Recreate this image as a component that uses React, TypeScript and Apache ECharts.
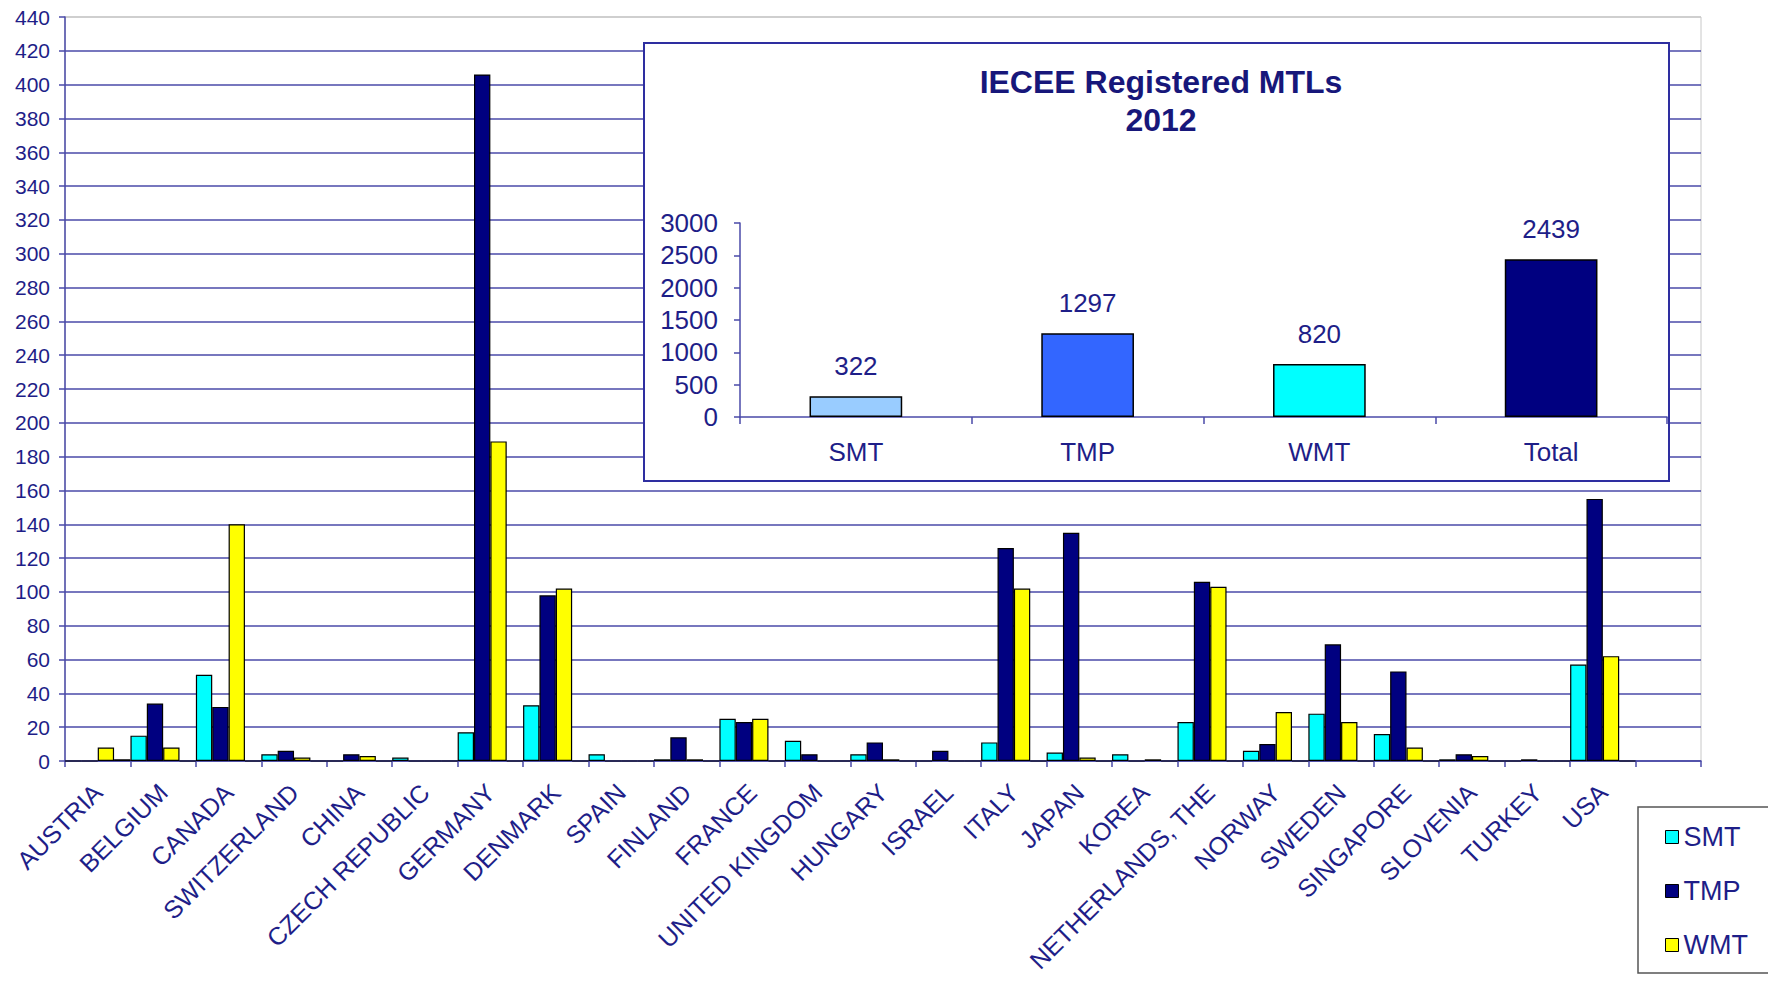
import React, { useEffect, useRef } from "react";
import * as echarts from "echarts";

const countries = [
  "AUSTRIA", "BELGIUM", "CANADA", "SWITZERLAND", "CHINA", "CZECH REPUBLIC",
  "GERMANY", "DENMARK", "SPAIN", "FINLAND", "FRANCE", "UNITED KINGDOM",
  "HUNGARY", "ISRAEL", "ITALY", "JAPAN", "KOREA", "NETHERLANDS, THE",
  "NORWAY", "SWEDEN", "SINGAPORE", "SLOVENIA", "TURKEY", "USA", "",
];
const smtValues = [0, 15, 51, 4, 0, 2, 17, 33, 4, 1, 25, 12, 4, 0, 11, 5, 4, 23, 6, 28, 16, 1, 0, 57, null];
const tmpValues = [0, 34, 32, 6, 4, 0, 406, 98, 0, 14, 23, 4, 11, 6, 126, 135, 0, 106, 10, 69, 53, 4, 1, 155, null];
const wmtValues = [8, 8, 140, 2, 3, 0, 189, 102, 0, 1, 25, 0, 1, 0, 102, 2, 1, 103, 29, 23, 8, 3, 0, 62, null];
const otherValues = [1, 0, 0, 0, 0, 0, 0, 0, 0, 0, 0, 0, 0, 0, 0, 0, 0, 0, 0, 0, 0, 0, 0, 0, null];

const totalCategories = ["SMT", "TMP", "WMT", "Total"];
const totalValues = [322, 1297, 820, 2439];
const totalColors = ["#99ccff", "#3366ff", "#00ffff", "#000080"];

const seriesNames = ["SMT", "TMP", "WMT"];
const seriesColors = ["#00ffff", "#000080", "#ffff00"];

const FONT = "'Liberation Sans', Arial, sans-serif";
const TEXT = "#1e1e88";
const GRIDLINE = "#4a4aa8";

export default function App() {
  const ref = useRef<HTMLDivElement>(null);

  useEffect(() => {
    if (!ref.current) return;
    const chart = echarts.init(ref.current, undefined, { renderer: "svg" });

    const splitColors: string[] = [];
    for (let v = 0; v <= 440; v += 20) splitColors.push(v === 440 ? "#c8c8c8" : GRIDLINE);

    const mainData = [smtValues, tmpValues, wmtValues];

    const option: any = {
      animation: false,
      backgroundColor: "#ffffff",
      textStyle: { fontFamily: FONT },
      title: {
        text: "IECEE Registered MTLs\n2012",
        left: 1156,
        top: 58,
        textAlign: "center",
        z: 10,
        textStyle: {
          fontFamily: FONT,
          fontSize: 32,
          fontWeight: "bold",
          color: "#17177a",
          lineHeight: 38,
        },
      },
      graphic: [
        {
          type: "rect",
          z: 1,
          shape: { x: 644, y: 43, width: 1025, height: 438 },
          style: { fill: "#ffffff", stroke: "#2e2ea0", lineWidth: 2 },
        },
      ],
      legend: {
        data: seriesNames,
        orient: "vertical",
        left: 1638,
        top: 807,
        padding: [16, 90, 14, 27],
        itemGap: 26,
        itemWidth: 13,
        itemHeight: 13,
        icon: "rect",
        borderColor: "#555555",
        borderWidth: 1.5,
        itemStyle: { borderColor: "#000000", borderWidth: 1 },
        textStyle: { fontFamily: FONT, fontSize: 27, color: TEXT, lineHeight: 28 },
      },
      grid: [
        {
          left: 65, top: 17, width: 1636, height: 744,
          outerBoundsMode: "none",
          containLabel: false,
          show: true, borderColor: "#c8c8c8", borderWidth: 1,
          backgroundColor: "transparent",
        },
        {
          left: 740, top: 223, width: 927, height: 194, z: 3,
          outerBoundsMode: "none",
          containLabel: false,
        },
      ],
      xAxis: [
        {
          type: "category",
          gridIndex: 0,
          data: countries,
          axisLine: { lineStyle: { color: GRIDLINE, width: 1.5 } },
          axisTick: { show: true, length: 6, lineStyle: { color: GRIDLINE, width: 1.5 } },
          axisLabel: {
            rotate: 45,
            interval: 0,
            fontSize: 25,
            fontFamily: FONT,
            color: TEXT,
            margin: 27,
          },
          splitLine: { show: false },
        },
        {
          type: "category",
          gridIndex: 1,
          data: totalCategories,
          z: 3,
          axisLine: { lineStyle: { color: GRIDLINE, width: 1.5 } },
          axisTick: { show: true, length: 7, lineStyle: { color: GRIDLINE, width: 1.5 } },
          axisLabel: { fontSize: 26, fontFamily: FONT, color: TEXT, margin: 22 },
        },
      ],
      yAxis: [
        {
          type: "value",
          gridIndex: 0,
          min: 0,
          max: 440,
          interval: 20,
          axisLine: { show: true, lineStyle: { color: GRIDLINE, width: 1.5 } },
          axisTick: { show: true, length: 6, lineStyle: { color: GRIDLINE, width: 1.5 } },
          axisLabel: { fontSize: 21, fontFamily: FONT, color: TEXT, margin: 15 },
          splitLine: { show: true, lineStyle: { color: splitColors, width: 1.5 } },
        },
        {
          type: "value",
          gridIndex: 1,
          min: 0,
          max: 3000,
          interval: 500,
          z: 3,
          axisLine: { show: true, lineStyle: { color: GRIDLINE, width: 1.5 } },
          axisTick: { show: true, length: 6, lineStyle: { color: GRIDLINE, width: 1.5 } },
          axisLabel: {
            fontSize: 26,
            fontFamily: FONT,
            color: TEXT,
            margin: 22,
            formatter: (v: number) => String(v),
          },
          splitLine: { show: false },
        },
      ],
      series: [
        ...seriesNames.map((name, i) => ({
          name,
          type: "bar",
          xAxisIndex: 0,
          yAxisIndex: 0,
          data: mainData[i],
          barGap: "0%",
          barCategoryGap: "0%",
          itemStyle: { color: seriesColors[i], borderColor: "#000000", borderWidth: 1.2 },
        })),
        {
          name: "other",
          type: "bar",
          xAxisIndex: 0,
          yAxisIndex: 0,
          data: otherValues,
          barGap: "0%",
          barCategoryGap: "0%",
          itemStyle: { color: "#000080", borderColor: "#000000", borderWidth: 1.2 },
        },
        {
          name: "Registered MTLs 2012",
          type: "bar",
          xAxisIndex: 1,
          yAxisIndex: 1,
          z: 4,
          barWidth: "40%",
          data: totalValues.map((v, i) => ({
            value: v,
            itemStyle: { color: totalColors[i], borderColor: "#000000", borderWidth: 1.5 },
          })),
          label: {
            show: true,
            position: "top",
            distance: 17,
            fontSize: 26,
            fontFamily: FONT,
            color: TEXT,
          },
        },
      ],
    };

    chart.setOption(option);
    return () => chart.dispose();
  }, []);

  return (
    <div
      ref={ref}
      style={{ position: "fixed", left: 0, top: 0, width: 1768, height: 981, background: "#fff" }}
    />
  );
}
